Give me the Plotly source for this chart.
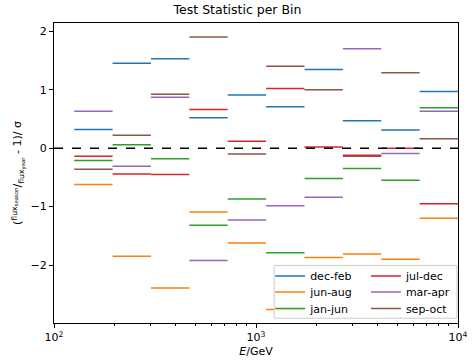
import numpy as np
import plotly.graph_objects as go

# bin edges in log10(E/GeV)
log_edges = [2.10, 2.29, 2.48, 2.67, 2.86, 3.05, 3.24, 3.43, 3.62, 3.81, 4.00]

series_names = ["dec-feb", "jun-aug", "jan-jun", "jul-dec", "mar-apr", "sep-oct"]
colors = ["#1f77b4", "#ff7f0e", "#2ca02c", "#d62728", "#9467bd", "#8c564b"]

dec_feb = [0.32, 1.45, 1.53, 0.52, 0.91, 0.71, 1.345, 0.47, 0.31, 0.97]
jun_aug = [-0.62, -1.85, -2.39, -1.09, -1.62, -2.76, -1.87, -1.81, -1.90, -1.20]
jan_jun = [-0.21, 0.06, -0.18, -1.32, -0.87, -1.79, -0.52, -0.35, -0.55, 0.69]
jul_dec = [-0.14, -0.44, -0.45, 0.66, 0.12, 1.02, 0.02, -0.12, 0.00, -0.95]
mar_apr = [0.63, -0.31, 0.87, -1.92, -1.23, -0.985, -0.84, 1.70, -0.09, 0.63]
sep_oct = [-0.36, 0.22, 0.92, 1.90, -0.10, 1.40, 1.00, -0.14, 1.29, 0.16]

values = [dec_feb, jun_aug, jan_jun, jul_dec, mar_apr, sep_oct]

edges = [10 ** e for e in log_edges]

legend_ids = ["legend", "legend2", "legend3", "legend4", "legend5", "legend6"]
legend_x = [0.535, 0.535, 0.535, 0.772, 0.772, 0.772]
legend_y = [0.2047, 0.1513, 0.0967, 0.2047, 0.1513, 0.0967]

fig = go.Figure()
for i, (name, col, vals) in enumerate(zip(series_names, colors, values)):
    xs, ys = [], []
    for j, v in enumerate(vals):
        xs += [edges[j], edges[j + 1], None]
        ys += [v, v, None]
    fig.add_trace(go.Scatter(
        x=xs, y=ys, mode="lines", name=name,
        line=dict(color=col, width=1.5),
        legend=legend_ids[i],
    ))

font = "DejaVu Sans"
fig.add_shape(type="line", xref="paper", x0=0, x1=1, y0=0, y1=0, yref="y",
              line=dict(color="black", width=1.5, dash="dash"), layer="above")

# legend frame
fig.add_shape(type="rect", xref="paper", yref="paper",
              x0=0.545, x1=0.9975, y0=0.016, y1=0.192,
              fillcolor="rgba(255,255,255,0.8)", line=dict(color="#cccccc", width=1),
              layer="above")

legends = {}
for lid, lx, ly in zip(legend_ids, legend_x, legend_y):
    legends[lid] = dict(x=lx, y=ly, xanchor="left", yanchor="top",
                        bgcolor="rgba(0,0,0,0)", font=dict(size=11))

fig.update_layout(
    width=475, height=363,
    margin=dict(l=54, r=17, t=23, b=40),
    paper_bgcolor="white", plot_bgcolor="white",
    font=dict(family=font, size=11, color="black"),
    title=dict(text="Test Statistic per Bin", x=0.5, xanchor="center",
               y=1 - 10 / 363, yanchor="middle", font=dict(size=12.5)),
    showlegend=True,
    **legends,
    xaxis=dict(
        type="log", range=[2, 4], showgrid=False, zeroline=False, automargin=False,
        showline=True, linecolor="black", linewidth=1, mirror=True,
        ticks="outside", ticklen=4, tickcolor="black",
        tickvals=[100, 1000, 10000],
        ticktext=["10<sup>2</sup>", "10<sup>3</sup>", "10<sup>4</sup>"],
        minor=dict(ticks="outside", ticklen=2, tickcolor="black",
                   tickvals=[200, 300, 400, 500, 600, 700, 800, 900,
                             2000, 3000, 4000, 5000, 6000, 7000, 8000, 9000]),
        title=dict(text="<i>E</i>/GeV", standoff=4, font=dict(size=11)),
    ),
    yaxis=dict(
        range=[-2.99, 2.14], showgrid=False, zeroline=False, automargin=False,
        showline=True, linecolor="black", linewidth=1, mirror=True,
        ticks="outside", ticklen=4, tickcolor="black",
        tickvals=[-2, -1, 0, 1, 2],
        title=dict(text="(<sup>flux<sub>season</sub></sup>/<sub>flux<sub>year</sub></sub> - 1)/ σ",
                   standoff=6, font=dict(size=11)),
    ),
)

fig.write_html("out.html", config={"displayModeBar": False},
               post_script="document.body.style.margin='0';")
